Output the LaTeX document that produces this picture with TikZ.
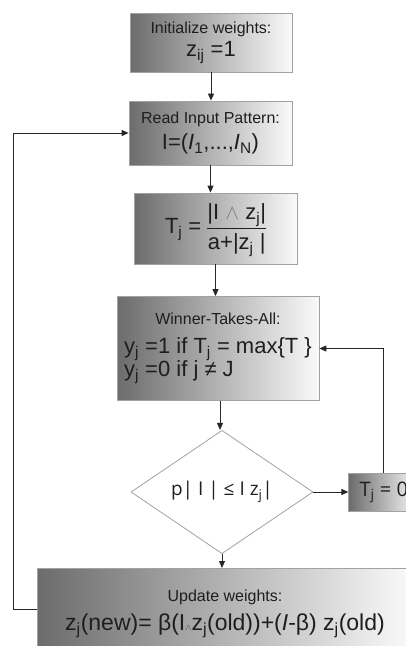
\documentclass[tikz,border=0pt]{standalone}
\usepackage{fontspec}
\setmainfont{Liberation Sans}
\newfontfamily\testfont{Open Sans}
\usepackage{xcolor}
\definecolor{Ink}{HTML}{1E1E1E}
\definecolor{Edge}{HTML}{A2A2A2}
\definecolor{Faint}{HTML}{7C7C7C}
\definecolor{Dim}{HTML}{4A4A4A}
\definecolor{ShadeL}{HTML}{6C6C6C}
\definecolor{ShadeR}{HTML}{FAFAFA}
\definecolor{Wire}{HTML}{262626}
\usepackage{tikz}
\usetikzlibrary{arrows.meta,positioning,shapes.geometric}
\tikzset{
  stepbox/.style={draw=Edge,line width=.8pt,left color=ShadeL,right color=ShadeR,
    align=center,text=Ink,inner sep=2pt,font=\fontsize{16}{19}\selectfont},
  test/.style={diamond,draw=Edge,line width=.8pt,fill=white,text=Ink,inner sep=0pt,
    minimum width=182pt,minimum height=92pt,font=\testfont\fontsize{19}{22}\selectfont},
  arrow/.style={-{Triangle[length=7pt,width=6pt]},line width=1pt,draw=Wire},
  wire/.style={line width=1pt,draw=Wire}
}
\newcommand{\formsize}{\fontsize{22}{26}\selectfont}
\newcommand{\subj}[1]{\textsubscript{#1}}
\newcommand{\wedgegray}[1][Faint]{\textcolor{#1}{$\wedge$}}

\begin{document}
\begin{tikzpicture}[x=1pt,y=-1pt]
\clip (0,0) rectangle (406,646);
\node[stepbox,minimum width=162pt,minimum height=59pt] (init) at (211,42.5)
  {Initialize weights:\\[4pt]{\formsize z\subj{ij} =1}};
\node[stepbox,minimum width=163pt,minimum height=64pt] (read) at (210.5,133)
  {Read Input Pattern:\\[6pt]{\formsize I=(\textit{I}\subj{1},...,\textit{I}\subj{N})}};
\node[stepbox,minimum width=163pt,minimum height=71pt] (score) at (215.5,228.5)
  {\formsize T\subj{j} = \renewcommand{\arraystretch}{1.1}\setlength{\arrayrulewidth}{1.2pt}%
   \begin{tabular}[c]{@{}c@{}}|I \wedgegray\ z\subj{j}|\\\hline a+|z\subj{j} |\end{tabular}};
\node[stepbox,minimum width=202pt,minimum height=104pt] (wta) at (218,348.5)
  {Winner-Takes-All:\\[10pt]{\fontsize{22}{22}\selectfont
   \begin{tabular}[t]{@{}l@{}}y\subj{j} =1 if T\subj{j} = max\{T \}\\y\subj{j} =0 if j ≠ J\end{tabular}}};
\node[test] (check) at (222,492) {p| I | ≤ I z\subj{j}|};
\node[stepbox,minimum width=70pt,minimum height=38pt,right=35pt of check,
  font=\testfont\fontsize{20}{24}\selectfont] (reset) {T\subj{j} = 0};
\node[stepbox,minimum width=374pt,minimum height=90pt,anchor=north west] (update) at (37,568)
  {};
\node[align=center,text=Ink,font=\fontsize{16}{19}\selectfont] (updtext) at (225,614)
  {Update weights:\\[8pt]{\fontsize{23}{26}\selectfont z\subj{j}(new)= β(I{\small\wedgegray[Dim]}z\subj{j}(old))+(\textit{I}-β) z\subj{j}(old)}};
% main flow
\draw[arrow] (init.south) -- (init.south |- read.north);
\draw[arrow] (read.south) -- (read.south |- score.north);
\draw[arrow] (score.south) -- (score.south |- wta.north);
\draw[arrow] ([xshift=2pt]wta.south) -- ([xshift=2pt]wta.south |- check.north);
\draw[arrow] (check.south) -- (check.south |- update.north);
\draw[arrow] (check.east) -- (reset.west);
% loops back
\draw[arrow] (reset.north) |- (wta.east);
\draw[arrow] (update.west |- 0,609) -- (13,609) |- (read.west);
\end{tikzpicture}
\end{document}
